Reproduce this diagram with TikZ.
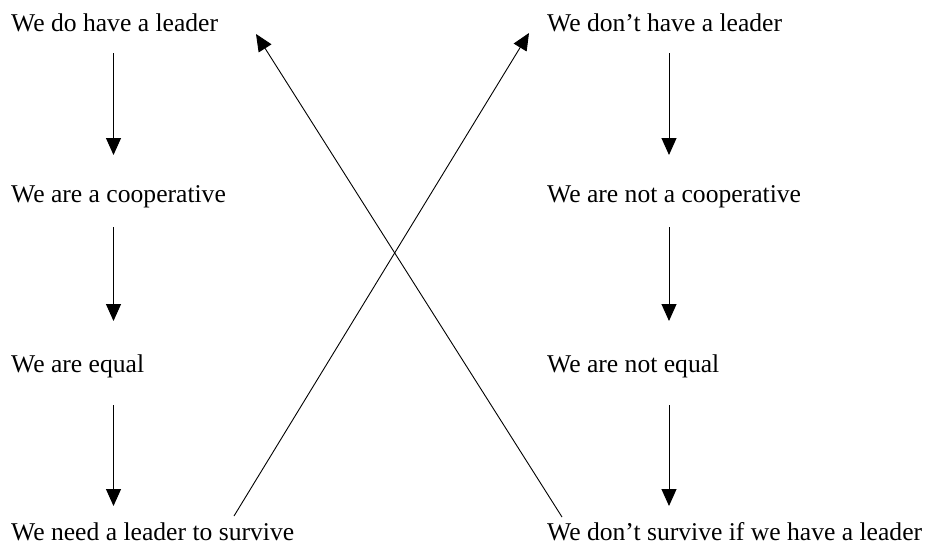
\documentclass[tikz,border=0pt]{standalone}
\usepackage{fontspec}
\setmainfont{Liberation Serif}
\usepackage{tikz}
\usetikzlibrary{arrows.meta}

\tikzset{
  stmt/.style={anchor=base west,inner sep=0pt,font=\fontsize{25.6}{30}\selectfont},
  flow/.style={-{Triangle[length=17pt,width=15pt]},line width=1pt},
  cross/.style={-{Triangle[length=17pt,width=15pt]},line width=0.9pt}
}

\begin{document}
\begin{tikzpicture}[x=1pt,y=-1pt]

\useasboundingbox (0,0) rectangle (925,544);

\node[stmt] (have) at (11,31) {We do have a leader};						% linke Spalte
\node[stmt] (coop) at (11,202) {We are a cooperative};
\node[stmt] (equal) at (11,372) {We are equal};
\node[stmt] (need) at (11,540) {We need a leader to survive};

\node[stmt] (nohave) at (547,31) {We don’t have a leader};					% rechte Spalte
\node[stmt] (nocoop) at (547,202) {We are not a cooperative};
\node[stmt] (noequal) at (547,372) {We are not equal};
\node[stmt] (nosurv) at (547,540) {We don’t survive if we have a leader};

\draw[flow] ([xshift=102.5pt,yshift=-22pt]have.base west) -- ([xshift=102.5pt,yshift=47pt]coop.base west);		% links 1
\draw[flow] ([xshift=102.5pt,yshift=-25pt]coop.base west) -- ([xshift=102.5pt,yshift=51pt]equal.base west);		% links 2
\draw[flow] ([xshift=102.5pt,yshift=-33pt]equal.base west) -- ([xshift=102.5pt,yshift=34pt]need.base west);		% links 3

\draw[flow] ([xshift=122pt,yshift=-22pt]nohave.base west) -- ([xshift=122pt,yshift=47pt]nocoop.base west);		% rechts 1
\draw[flow] ([xshift=122pt,yshift=-25pt]nocoop.base west) -- ([xshift=122pt,yshift=51pt]noequal.base west);		% rechts 2
\draw[flow] ([xshift=122pt,yshift=-33pt]noequal.base west) -- ([xshift=122pt,yshift=34pt]nosurv.base west);		% rechts 3

\draw[cross] ([xshift=223pt,yshift=24pt]need.base west) -- ([xshift=-18pt,yshift=-2pt]nohave.base west);		% Kreuz nach rechts oben
\draw[cross] ([xshift=15pt,yshift=23pt]nosurv.base west) -- ([xshift=245pt,yshift=-3pt]have.base west);		% Kreuz nach links oben

\end{tikzpicture}
\end{document}
